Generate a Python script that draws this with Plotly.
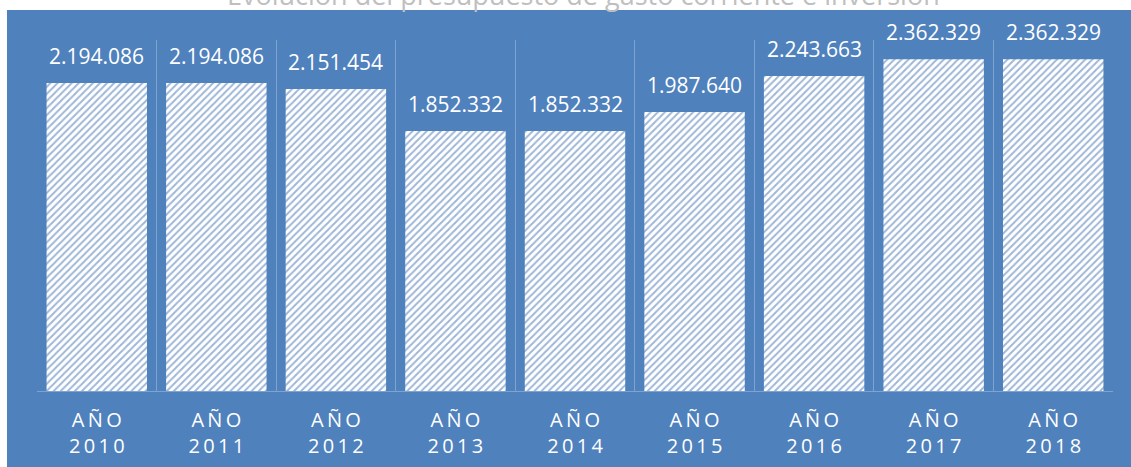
import plotly.graph_objects as go

# data
years = ['2010', '2011', '2012', '2013', '2014', '2015', '2016', '2017', '2018']
budget = [2194086, 2194086, 2151454, 1852332, 1852332, 1987640, 2243663, 2362329, 2362329]
title_text = 'Evolución del presupuesto de gasto corriente e inversión'

BLUE = '#4f81bd'
GRID = '#7fa3d1'
FONT = 'Open Sans'
thin = '\u2009'


def spaced(s):
    return thin.join(list(s))


cats = [spaced('AÑO') + '<br>' + spaced(y) for y in years]


def fmt(v):
    return f'{v:,}'.replace(',', '.')


fig = go.Figure()

fig.add_trace(go.Bar(
    x=cats,
    y=budget,
    marker=dict(
        color='white',
        line_width=0,
        pattern=dict(shape='/', fgcolor='#3d6db0', bgcolor='white', size=5, solidity=0.4),
    ),
    hovertemplate='%{y:,.0f}<extra></extra>',
))

# value labels above the bars
for c, v in zip(cats, budget):
    fig.add_annotation(
        x=c, y=v, text=fmt(v), showarrow=False,
        yanchor='bottom', yshift=11,
        font=dict(family=FONT, size=21, color='white'),
    )

# title, partly cut off at the top like the original
fig.add_annotation(
    xref='paper', yref='paper', x=0.508, y=1.071,
    xanchor='center', yanchor='bottom', showarrow=False,
    text=title_text,
    font=dict(family=FONT, size=27, color='#bfbfbf'),
)

# blue chart area
fig.add_shape(
    type='rect', xref='paper', yref='paper',
    x0=-0.0279, x1=1.03, y0=-0.25, y1=1.0855,
    fillcolor=BLUE, line_width=0, layer='below',
)

fig.update_layout(
    width=1131,
    height=467,
    margin=dict(l=37, r=18, t=40, b=76, autoexpand=False),
    paper_bgcolor='white',
    plot_bgcolor='rgba(0,0,0,0)',
    bargap=0.16,
    showlegend=False,
    xaxis=dict(
        type='category',
        categoryorder='array',
        categoryarray=cats,
        range=[-0.5, len(cats) - 0.5],
        tickson='boundaries',
        automargin=False,
        showgrid=True,
        gridcolor=GRID,
        gridwidth=1,
        showline=True,
        linecolor=GRID,
        linewidth=1,
        ticks='',
        tickangle=0,
        ticklabelstandoff=11,
        tickfont=dict(family=FONT, size=20, color='white'),
    ),
    yaxis=dict(
        range=[0, 2500000],
        visible=False,
        showgrid=False,
        automargin=False,
    ),
)

# drop the default page margin so the figure sits at the window corner
fig.write_html(
    'out.html',
    config={'displayModeBar': False},
    post_script="document.body.style.margin='0';document.body.style.overflow='hidden';",
)
